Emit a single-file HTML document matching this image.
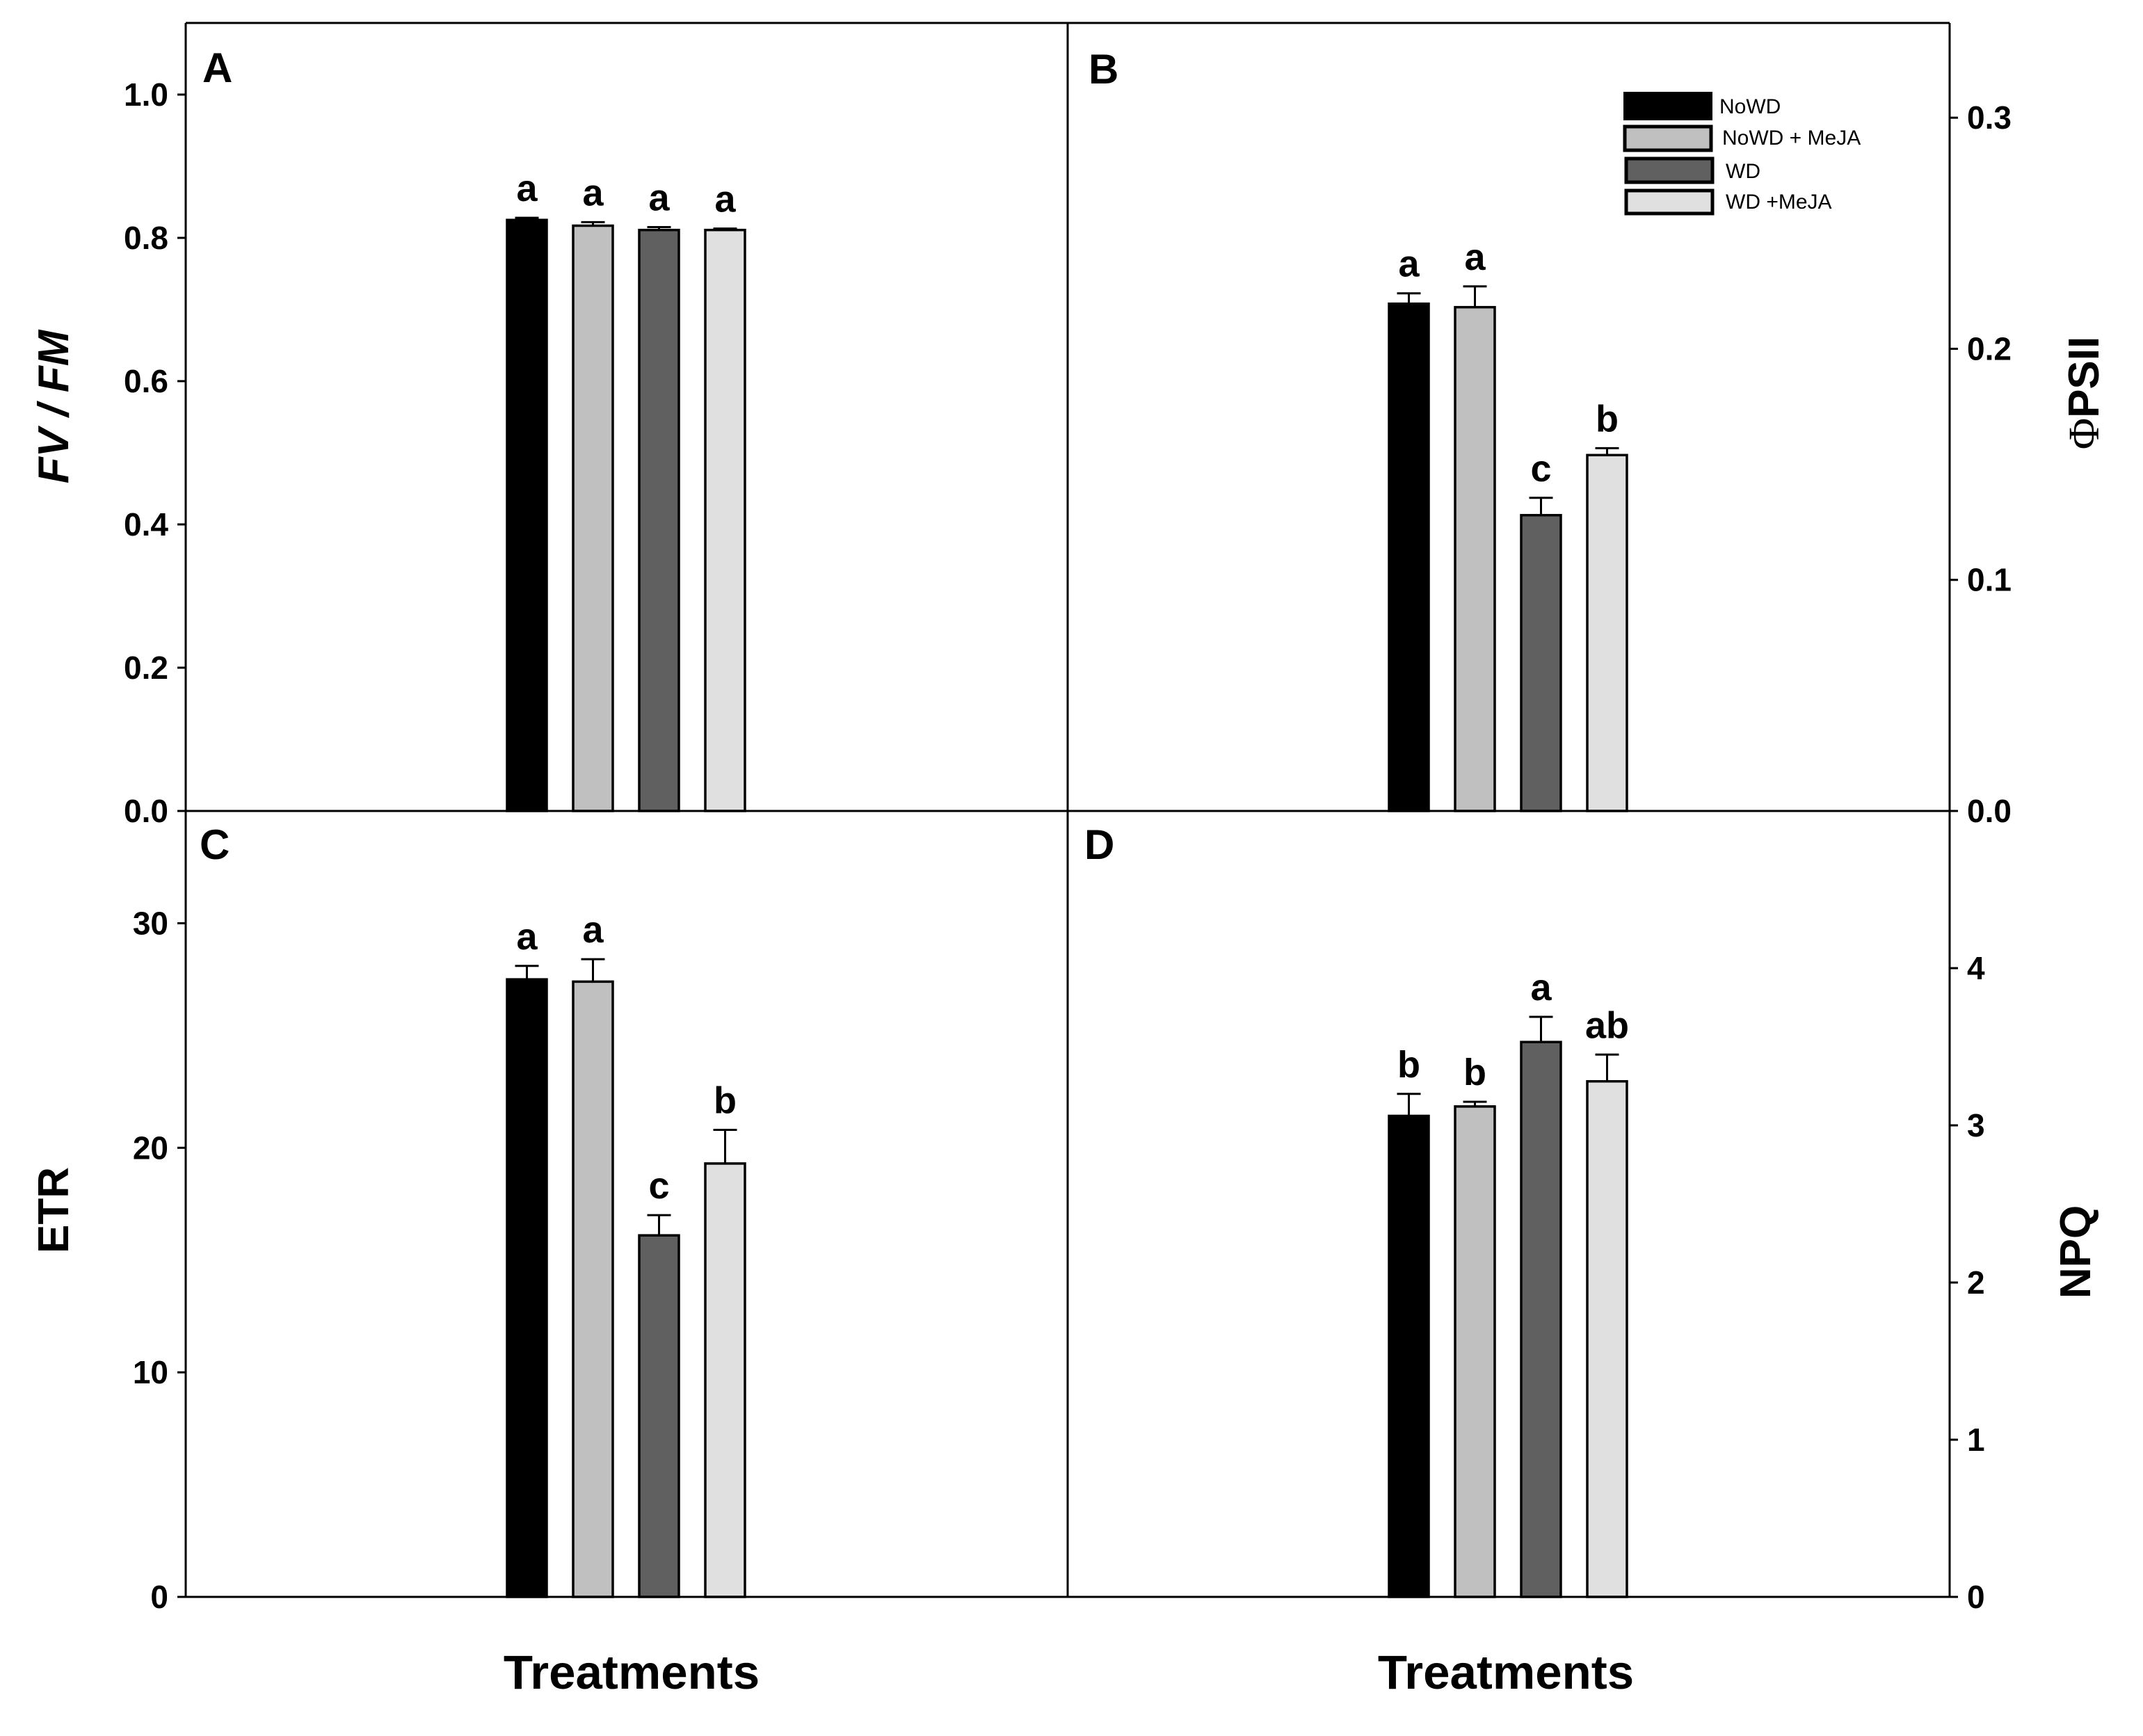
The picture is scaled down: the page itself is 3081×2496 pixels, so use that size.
<!DOCTYPE html>
<html><head><meta charset="utf-8"><style>
html,body{margin:0;padding:0;background:#fff}
svg{display:block;font-family:"Liberation Sans",Arial,sans-serif}
</style></head><body>
<svg id="fig" width="3081" height="2496" viewBox="0 0 3081 2496">
<g id="frame" stroke="#000" stroke-width="3" fill="none">
<line x1="267" y1="33" x2="2803" y2="33"/>
<line x1="267" y1="33" x2="267" y2="2296"/>
<line x1="1535" y1="33" x2="1535" y2="2296"/>
<line x1="2803" y1="33" x2="2803" y2="2296"/>
<line x1="267" y1="1166" x2="2803" y2="1166"/>
<line x1="267" y1="2296" x2="2803" y2="2296"/>
</g>
<g id="plots"></g>
<g>
<rect x="2336" y="134" width="124" height="37" fill="#000" stroke="#000" stroke-width="4"/>
<text x="2472" y="163" font-size="30">NoWD</text>
<rect x="2336" y="182" width="124" height="34" fill="#c0c0c0" stroke="#000" stroke-width="5"/>
<text x="2476" y="208" font-size="30">NoWD + MeJA</text>
<rect x="2338" y="228" width="124" height="34" fill="#606060" stroke="#000" stroke-width="5"/>
<text x="2481" y="256" font-size="30">WD</text>
<rect x="2338" y="274" width="124" height="33" fill="#e0e0e0" stroke="#000" stroke-width="5"/>
<text x="2481" y="300" font-size="30">WD +MeJA</text>
</g>
<text x="291" y="118" font-size="60" font-weight="bold">A</text>
<text x="1565" y="120" font-size="60" font-weight="bold">B</text>
<text x="287" y="1235" font-size="60" font-weight="bold">C</text>
<text x="1559" y="1235" font-size="60" font-weight="bold">D</text>
<text transform="translate(98,585) rotate(-90)" text-anchor="middle" font-size="62" font-weight="bold" font-style="italic">FV / FM</text>
<text transform="translate(98,1740) rotate(-90)" text-anchor="middle" font-size="62" font-weight="bold">ETR</text>
<text transform="translate(3017,565) rotate(-90)" text-anchor="middle" font-size="62" font-weight="bold"><tspan font-family="Liberation Serif,serif" font-weight="normal">Φ</tspan>PSII</text>
<text transform="translate(3005,1800) rotate(-90)" text-anchor="middle" font-size="62" font-weight="bold">NPQ</text>
<text x="908" y="2428" text-anchor="middle" font-size="69" font-weight="bold">Treatments</text>
<text x="2165" y="2428" text-anchor="middle" font-size="69" font-weight="bold">Treatments</text>
</svg>
<script>
const treatments = ["NoWD","NoWD + MeJA","WD","WD +MeJA"];
const fvfmValues = [0.825,0.817,0.811,0.811];
const fvfmErrors = [0.003,0.005,0.004,0.002];
const fvfmLetters = ["a","a","a","a"];
const fvfmTicks = ["0.0","0.2","0.4","0.6","0.8","1.0"];
const psiiValues = [0.2195,0.218,0.128,0.154];
const psiiErrors = [0.0045,0.009,0.0075,0.003];
const psiiLetters = ["a","a","c","b"];
const psiiTicks = ["0.0","0.1","0.2","0.3"];
const etrValues = [27.5,27.4,16.1,19.3];
const etrErrors = [0.6,1.0,0.9,1.5];
const etrLetters = ["a","a","c","b"];
const etrTicks = ["0","10","20","30"];
const npqValues = [3.06,3.12,3.53,3.28];
const npqErrors = [0.14,0.03,0.16,0.17];
const npqLetters = ["b","b","a","ab"];
const npqTicks = ["0","1","2","3","4"];

const fills = ["#000000","#c0c0c0","#606060","#e0e0e0"];
const NS = "http://www.w3.org/2000/svg";
const root = document.getElementById("plots");
function mk(tag, attrs){const e=document.createElementNS(NS,tag);for(const k in attrs)e.setAttribute(k,attrs[k]);root.appendChild(e);return e;}

function panel(key, x0, yTop, yBase, vmax, vals, errs, letters, ticks, side){
  const y = v => yBase - (v / vmax) * (yBase - yTop);
  const barW = 57, pitch = 95, start = x0 + 462;
  ticks.forEach(t => {
    const v = parseFloat(t), ty = y(v);
    const axX = side === "left" ? 267 : 2803;
    const dir = side === "left" ? -1 : 1;
    const tk = mk("line",{x1:axX,y1:ty,x2:axX+dir*12,y2:ty,stroke:"#000","stroke-width":3});
    
    
    const lb = mk("text",{x: side==="left"?242:2828, y: ty+16, "font-size":46, "font-weight":"bold", "text-anchor": side==="left"?"end":"start"});
    lb.textContent = t;
    
    
  });
  vals.forEach((v,i) => {
    const bx = start + i*pitch, top = y(v), etop = y(v + errs[i]), cx = bx + barW/2;
    const eb = mk("line",{x1:cx,y1:top,x2:cx,y2:etop,stroke:"#000","stroke-width":3});
    
    
    const cap = mk("line",{x1:cx-17,y1:etop,x2:cx+17,y2:etop,stroke:"#000","stroke-width":3});
    
    
    const r = mk("rect",{x:bx,y:top,width:barW,height:yBase-top,fill:fills[i],stroke:"#000","stroke-width":3.5});
    
    
    const lt = mk("text",{x:cx,y:etop-24,"font-size":54,"font-weight":"bold","text-anchor":"middle"});
    lt.textContent = letters[i];
    
    
  });
}
panel("fvfm", 267, 33, 1166, 1.1, fvfmValues, fvfmErrors, fvfmLetters, fvfmTicks, "left");
panel("phipsii", 1535, 33, 1166, 0.341, psiiValues, psiiErrors, psiiLetters, psiiTicks, "right");
panel("etr", 267, 1166, 2296, 35, etrValues, etrErrors, etrLetters, etrTicks, "left");
panel("npq", 1535, 1166, 2296, 5, npqValues, npqErrors, npqLetters, npqTicks, "right");
</script>
</body></html>
